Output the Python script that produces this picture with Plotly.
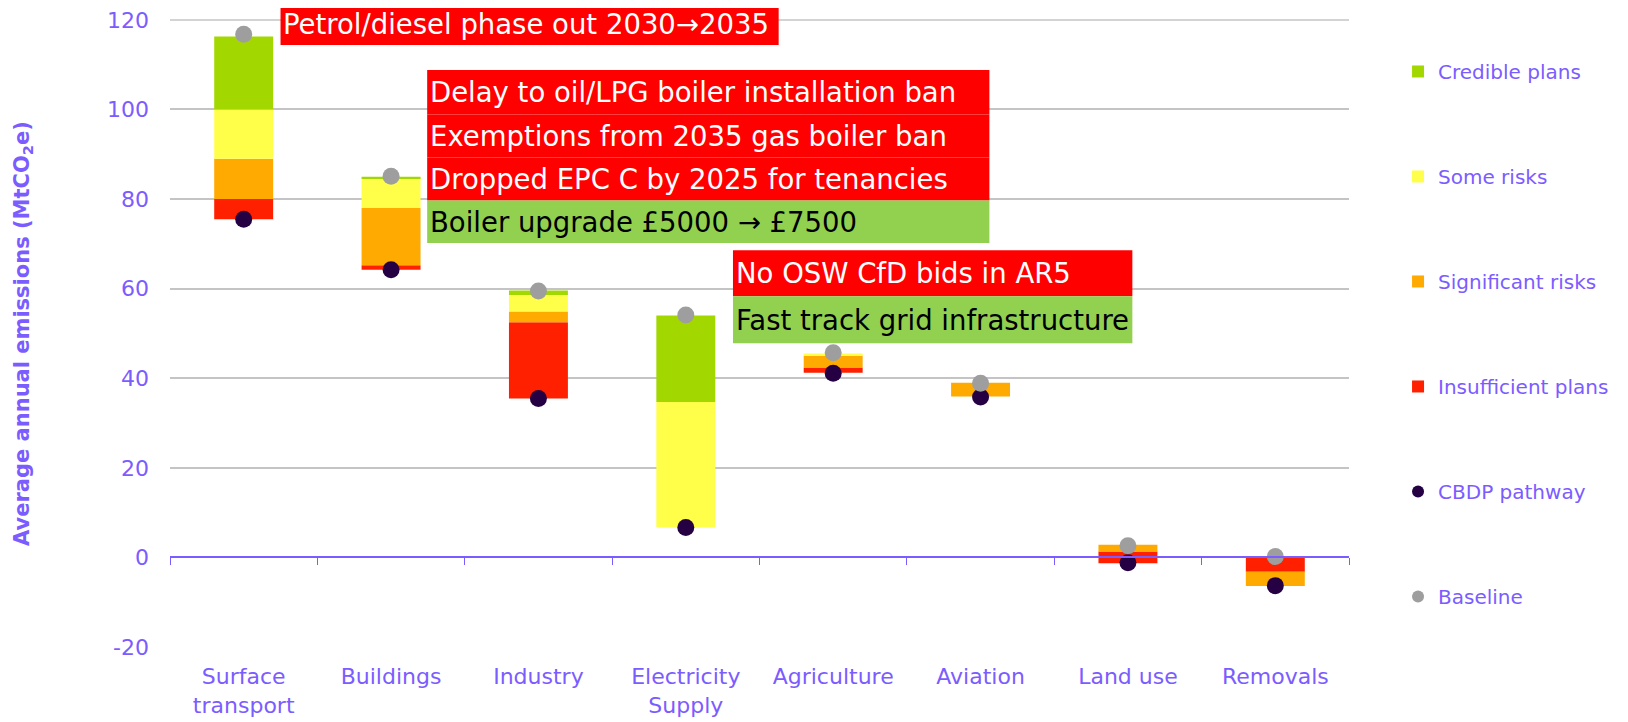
import plotly.graph_objects as go

categories = ["Surface<br>transport", "Buildings", "Industry", "Electricity<br>Supply",
              "Agriculture", "Aviation", "Land use", "Removals"]

# Where each stacked bar starts (MtCO2e) and the signed size of each segment
stack_start = [75.5, 64.2, 35.5, 6.7, 41.2, 35.9, -1.3, 0.0]
insufficient_plans = [4.5, 1.0, 17.0, None, 1.2, None, 2.6, -3.2]
significant_risks = [9.0, 12.8, 2.4, None, 2.7, 3.1, 1.5, -3.2]
some_risks = [11.0, 6.7, 3.7, 28.0, 0.4, None, None, None]
credible_plans = [16.3, 0.3, 1.0, 19.3, None, None, None, None]

baseline = [116.8, 85.1, 59.5, 54.1, 45.7, 38.9, 2.6, 0.2]
cbdp_pathway = [75.5, 64.2, 35.5, 6.7, 41.1, 35.8, -1.2, -6.3]

y_ticks = [-20, 0, 20, 40, 60, 80, 100, 120]
y_tick_labels = ["-20", "0", "20", "40", "60", "80", "100", "120"]

Y_RANGE = [-20, 120.2]
X_RANGE = [-0.5, 7.5]

PURPLE = "#7B5CFF"
GRID = "#C4C4C4"
FONT = "DejaVu Sans"

segments = [
    ("Insufficient plans", insufficient_plans, "#FF2000"),
    ("Significant risks", significant_risks, "#FFAA00"),
    ("Some risks", some_risks, "#FFFF4A"),
    ("Credible plans", credible_plans, "#A2D800"),
]

# compute bases by stacking
bases = {}
cur = list(stack_start)
for name, vals, col in segments:
    b = []
    for i, v in enumerate(vals):
        b.append(cur[i])
        if v is not None:
            cur[i] = cur[i] + v
    bases[name] = b

legend_rank = {"Credible plans": 1, "Some risks": 2, "Significant risks": 3,
               "Insufficient plans": 4}

fig = go.Figure()
for name, vals, col in segments:
    fig.add_trace(go.Bar(
        x=categories, y=vals, base=bases[name], name=name,
        marker=dict(color=col, line=dict(width=0)), width=0.4,
        legendrank=legend_rank[name], legendgroup=name,
    ))

fig.add_trace(go.Scatter(
    x=categories, y=cbdp_pathway, mode="markers", name="CBDP pathway",
    marker=dict(color="#250042", size=17), legendrank=5, legendgroup="cbdp",
))
fig.add_trace(go.Scatter(
    x=categories, y=baseline, mode="markers", name="Baseline",
    marker=dict(color="#9E9E9E", size=17), legendrank=6, legendgroup="base",
))
# invisible trace to carry the zero-line axis with boundary ticks
fig.add_trace(go.Scatter(
    x=categories, y=[None] * len(categories), xaxis="x2", showlegend=False,
    hoverinfo="skip", mode="markers",
))


def xp(v):
    return (v - X_RANGE[0]) / (X_RANGE[1] - X_RANGE[0])


def yp(v):
    return (v - Y_RANGE[0]) / (Y_RANGE[1] - Y_RANGE[0])


# annotation boxes in axis units: (x0, x1, y0, y1, fill, text, text colour)
boxes = [
    (0.25, 3.63, 114.4, 123.8, "#FF0000", "Petrol/diesel phase out 2030\u21922035", "white"),
    (1.245, 5.06, 98.9, 108.8, "#FF0000", "Delay to oil/LPG boiler installation ban", "white"),
    (1.245, 5.06, 89.3, 98.9, "#FF0000", "Exemptions from 2035 gas boiler ban", "white"),
    (1.245, 5.06, 79.7, 89.3, "#FF0000", "Dropped EPC C by 2025 for tenancies", "white"),
    (1.245, 5.06, 70.2, 79.7, "#92D050", "Boiler upgrade \u00a35000 \u2192 \u00a37500", "black"),
    (3.32, 6.03, 58.3, 68.6, "#FF0000", "No OSW CfD bids in AR5", "white"),
    (3.32, 6.03, 47.8, 58.3, "#92D050", "Fast track grid infrastructure", "black"),
]
# top gridline (plotly omits the one at the plot edge)
shapes = [dict(type="line", xref="paper", yref="y", x0=0, x1=1,
               y0=y_ticks[-1], y1=y_ticks[-1], line=dict(color=GRID, width=1.5),
               layer="below")]
annotations = []
for x0, x1, y0, y1, fill, txt, tc in boxes:
    shapes.append(dict(type="rect", xref="paper", yref="paper",
                       x0=xp(x0), x1=xp(x1), y0=yp(y0), y1=yp(y1),
                       fillcolor=fill, line=dict(width=0), layer="above"))
    annotations.append(dict(xref="paper", yref="paper", x=xp(x0 + 0.005), y=yp((y0 + y1) / 2),
                            xanchor="left", yanchor="middle", text=txt, showarrow=False,
                            font=dict(family=FONT, size=27.5, color=tc)))

annotations.append(dict(xref="paper", yref="paper", x=-0.1247, y=0.5,
                        xanchor="center", yanchor="middle", textangle=-90,
                        text="<b>Average annual emissions (MtCO<sub>2</sub>e)</b>",
                        showarrow=False, font=dict(family=FONT, size=21, color=PURPLE)))

# page body adds an 8px offset; size the figure so the plot lands where the reference has it
fig.update_layout(
    width=1620, height=714,
    margin=dict(l=162, r=279, t=11, b=75, autoexpand=False),
    plot_bgcolor="white", paper_bgcolor="white",
    barmode="overlay",
    showlegend=True,
    legend=dict(x=1.0416, y=0.9475, xanchor="left", yanchor="top",
                font=dict(family=FONT, size=20, color=PURPLE),
                tracegroupgap=76, itemsizing="constant", bgcolor="rgba(0,0,0,0)"),
    shapes=shapes,
    annotations=annotations,
    xaxis=dict(type="category", categoryarray=categories, range=X_RANGE,
               showline=False, showgrid=False, ticks="", ticklabelstandoff=14,
               tickfont=dict(family=FONT, size=22, color=PURPLE)),
    xaxis2=dict(type="category", categoryarray=categories, range=X_RANGE,
                overlaying="x", anchor="free", position=yp(0),
                showline=True, linecolor=PURPLE, linewidth=1.5,
                ticks="outside", tickson="boundaries", ticklen=7, tickcolor=PURPLE,
                tickwidth=1, showticklabels=False, showgrid=False),
    yaxis=dict(range=Y_RANGE, tickvals=y_ticks, ticktext=y_tick_labels, showgrid=True,
               gridcolor=GRID, gridwidth=1.5, zeroline=False,
               ticklabelstandoff=20, ticklabeloverflow="allow",
               tickfont=dict(family=FONT, size=22, color=PURPLE)),
    font=dict(family=FONT, color=PURPLE),
)

fig.write_html("out.html")
